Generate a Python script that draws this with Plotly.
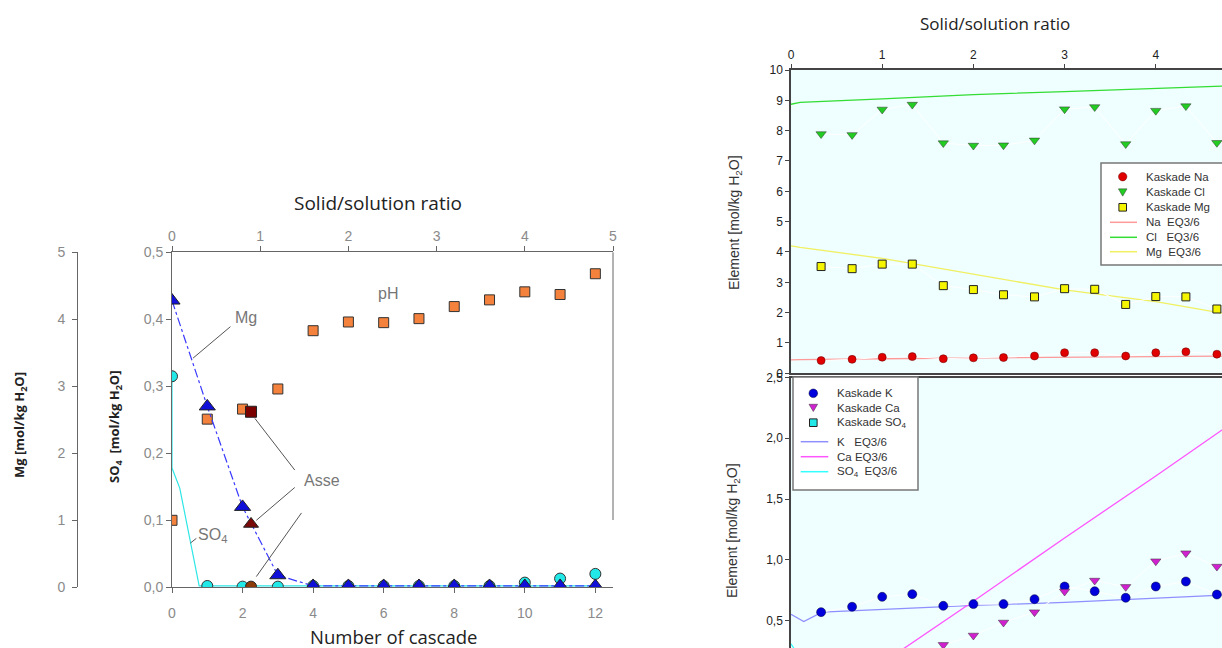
import plotly.graph_objects as go

W, H = 1222, 648
def px(x): return x / W
def py(y): return 1 - y / H

# ---------------- Left chart data ----------------
cascade = [0, 1, 2, 3, 4, 5, 6, 7, 8, 9, 10, 11, 12]
ph_pos = [0.100, 0.251, 0.266, 0.296, 0.383, 0.396, 0.395, 0.401, 0.419, 0.429, 0.441, 0.437, 0.468]
mg_vals = [4.28, 2.70, 1.20, 0.18, 0.02, 0.02, 0.02, 0.02, 0.02, 0.02, 0.02, 0.02, 0.02]
so4_vals = [0.315, 0.002, 0.001, 0.001, 0.002, 0.002, 0.002, 0.002, 0.002, 0.002, 0.007, 0.013, 0.020]
so4_model_x = [0, 0, 0.22, 0.77, 4, 8, 12]
so4_model_y = [0.314, 0.178, 0.148, 0.002, 0.002, 0.002, 0.002]
asse_x = [2.24]
asse_ph = [0.262]
asse_mg = [0.945]
asse_so4 = [0.001]

# ---------------- Right chart data ----------------
ratio = [0.33, 0.67, 1.0, 1.33, 1.67, 2.0, 2.33, 2.67, 3.0, 3.33, 3.67, 4.0, 4.33, 4.67]
na_k = [0.42, 0.46, 0.53, 0.55, 0.48, 0.51, 0.52, 0.57, 0.68, 0.68, 0.57, 0.68, 0.71, 0.63]
cl_k = [7.89, 7.86, 8.70, 8.86, 7.59, 7.51, 7.52, 7.68, 8.71, 8.78, 7.56, 8.66, 8.81, 7.60]
mg_k = [3.52, 3.45, 3.60, 3.60, 2.89, 2.76, 2.59, 2.52, 2.79, 2.77, 2.27, 2.53, 2.52, 2.12]
k_k = [0.570, 0.614, 0.696, 0.718, 0.622, 0.636, 0.636, 0.677, 0.781, 0.742, 0.688, 0.781, 0.822, 0.715]
ca_ratio = [1.67, 2.0, 2.33, 2.67, 3.0, 3.33, 3.67, 4.0, 4.33, 4.67]
ca_k = [0.301, 0.378, 0.485, 0.570, 0.740, 0.830, 0.778, 0.989, 1.055, 0.945]

eq_x = [0, 0.1, 1, 2, 3, 4, 4.75]
na_eq = [0.44, 0.45, 0.48, 0.51, 0.53, 0.55, 0.57]
cl_eq = [8.87, 8.93, 9.05, 9.19, 9.29, 9.38, 9.47]
mg_eq = [4.20, 4.15, 3.79, 3.27, 2.75, 2.36, 1.97]
k_eq_x = [0, 0.14, 0.34, 1.2, 2.0, 3.0, 3.39, 4.75]
k_eq = [0.553, 0.492, 0.570, 0.600, 0.625, 0.650, 0.664, 0.711]
ca_eq_x = [0, 1, 2, 3, 4, 4.75]
ca_eq = [-0.37, 0.15, 0.66, 1.18, 1.69, 2.08]
so4_eq_x = [0, 0.05, 0.3]
so4_eq = [0.31, 0.25, 0.05]

legend_top = ["Kaskade Na", "Kaskade Cl", "Kaskade Mg", "Na  EQ3/6", "Cl   EQ3/6", "Mg  EQ3/6"]
legend_bottom = ["Kaskade K", "Kaskade Ca", "Kaskade SO<sub>4</sub>", "K   EQ3/6", "Ca EQ3/6", "SO<sub>4</sub>  EQ3/6"]

C_NA, C_CL, C_MG = "#e00000", "#22cc22", "#f5f500"
C_NA_L, C_CL_L, C_MG_L = "#ff9a9a", "#33dd33", "#f0f060"
C_K, C_CA, C_SO4 = "#0000dd", "#d020d0", "#22e8e8"
C_K_L, C_CA_L, C_SO4_L = "#8f8fff", "#ff55ff", "#33ffff"

GRAY = "#8a8a8a"
fig = go.Figure()

# Left chart traces
fig.add_trace(go.Scatter(x=[None], y=[None], mode="markers", showlegend=False, xaxis="x2", yaxis="y",
                         hoverinfo="skip"))
fig.add_trace(go.Scatter(x=so4_model_x, y=so4_model_y, mode="lines",
                         line=dict(color="#2ee6e6", width=1.2), showlegend=False, xaxis="x", yaxis="y"))
fig.add_trace(go.Scatter(x=cascade, y=mg_vals, mode="lines",
                         line=dict(color="#3a3aff", width=1.2, dash="dashdot"), showlegend=False, xaxis="x", yaxis="y2"))
fig.add_trace(go.Scatter(x=cascade, y=ph_pos, mode="markers",
                         marker=dict(symbol="square", size=10, color="#f4823c", line=dict(color="#333", width=1)),
                         showlegend=False, xaxis="x", yaxis="y"))
fig.add_trace(go.Scatter(x=cascade, y=so4_vals, mode="markers",
                         marker=dict(symbol="circle", size=11, color="#22e8e8", line=dict(color="#333", width=1)),
                         showlegend=False, xaxis="x", yaxis="y"))
fig.add_trace(go.Scatter(x=cascade, y=mg_vals, mode="markers",
                         marker=dict(symbol="triangle-up", size=14, color="#1010d8", line=dict(color="#222", width=1)),
                         showlegend=False, xaxis="x", yaxis="y2"))
fig.add_trace(go.Scatter(x=asse_x, y=asse_ph, mode="markers",
                         marker=dict(symbol="square", size=11, color="#7a0000", line=dict(color="#222", width=1)),
                         showlegend=False, xaxis="x", yaxis="y"))
fig.add_trace(go.Scatter(x=asse_x, y=asse_mg, mode="markers",
                         marker=dict(symbol="triangle-up", size=13, color="#7a0a0a", line=dict(color="#222", width=1)),
                         showlegend=False, xaxis="x", yaxis="y2"))
fig.add_trace(go.Scatter(x=asse_x, y=asse_so4, mode="markers",
                         marker=dict(symbol="circle", size=11, color="#8b3a0a", line=dict(color="#222", width=1)),
                         showlegend=False, xaxis="x", yaxis="y"))

# Right upper traces
fig.add_trace(go.Scatter(x=eq_x, y=na_eq, mode="lines", line=dict(color=C_NA_L, width=1.3),
                         xaxis="x3", yaxis="y3", showlegend=False))
fig.add_trace(go.Scatter(x=eq_x, y=cl_eq, mode="lines", line=dict(color=C_CL_L, width=1.3),
                         xaxis="x3", yaxis="y3", showlegend=False))
fig.add_trace(go.Scatter(x=eq_x, y=mg_eq, mode="lines", line=dict(color=C_MG_L, width=1.3),
                         xaxis="x3", yaxis="y3", showlegend=False))
fig.add_trace(go.Scatter(x=ratio, y=na_k, mode="lines+markers", line=dict(color="white", width=1),
                         marker=dict(symbol="circle", size=8, color=C_NA, line=dict(color="#600", width=0.5)),
                         xaxis="x3", yaxis="y3", showlegend=False))
fig.add_trace(go.Scatter(x=ratio, y=cl_k, mode="lines+markers", line=dict(color="white", width=1),
                         marker=dict(symbol="triangle-down", size=9, color=C_CL, line=dict(color="#333", width=0.5)),
                         xaxis="x3", yaxis="y3", showlegend=False))
fig.add_trace(go.Scatter(x=ratio, y=mg_k, mode="lines+markers", line=dict(color="white", width=1),
                         marker=dict(symbol="square", size=8, color=C_MG, line=dict(color="#222", width=1)),
                         xaxis="x3", yaxis="y3", showlegend=False))

# Right lower traces
fig.add_trace(go.Scatter(x=k_eq_x, y=k_eq, mode="lines", line=dict(color=C_K_L, width=1.3),
                         xaxis="x4", yaxis="y4", showlegend=False))
fig.add_trace(go.Scatter(x=ca_eq_x, y=ca_eq, mode="lines", line=dict(color=C_CA_L, width=1.3),
                         xaxis="x4", yaxis="y4", showlegend=False))
fig.add_trace(go.Scatter(x=so4_eq_x, y=so4_eq, mode="lines", line=dict(color=C_SO4_L, width=1.3),
                         xaxis="x4", yaxis="y4", showlegend=False))
fig.add_trace(go.Scatter(x=ratio, y=k_k, mode="lines+markers", line=dict(color="white", width=1),
                         marker=dict(symbol="circle", size=9, color=C_K, line=dict(color="#003", width=0.5)),
                         xaxis="x4", yaxis="y4", showlegend=False))
fig.add_trace(go.Scatter(x=ca_ratio, y=ca_k, mode="lines+markers", line=dict(color="white", width=1),
                         marker=dict(symbol="triangle-down", size=9, color=C_CA, line=dict(color="#333", width=0.5)),
                         xaxis="x4", yaxis="y4", showlegend=False))

left_tick_font = dict(family="Liberation Sans, Arial", size=14, color=GRAY)
right_tick_font = dict(family="Liberation Sans, Arial", size=12, color="#222")
lx = [px(172), px(613)]
ly = [py(587.3), py(252.3)]
rx = [px(791), 1.0]

common_left = dict(showgrid=False, zeroline=False, showline=True, linecolor="#666", linewidth=1,
                   ticks="outside", ticklen=5, tickcolor="#666", tickfont=left_tick_font, automargin=False)
common_right = dict(showgrid=False, zeroline=False, showline=True, linecolor="#444", linewidth=1.5,
                    ticks="outside", ticklen=4, tickcolor="#444", tickfont=right_tick_font, automargin=False)

fig.update_layout(
    width=W, height=H, margin=dict(l=0, r=0, t=0, b=0, autoexpand=False),
    template="none", paper_bgcolor="white", plot_bgcolor="rgba(0,0,0,0)",
    separators=", ", showlegend=False,
    xaxis=dict(domain=lx, range=[0, 12.5], anchor="y", tickvals=[0, 2, 4, 6, 8, 10, 12],
               ticklabelstandoff=8, **common_left),
    xaxis2=dict(domain=lx, range=[0, 5], anchor="y", overlaying="x", side="top",
                tickvals=[0, 1, 2, 3, 4, 5], **common_left),
    yaxis=dict(domain=ly, range=[0, 0.5], anchor="x", tickvals=[0, 0.1, 0.2, 0.3, 0.4, 0.5],
               tickformat=".1f", **common_left),
    yaxis2=dict(domain=ly, range=[0, 5], anchor="free", position=px(77), overlaying="y", side="left",
                tickvals=[0, 1, 2, 3, 4, 5], ticklabelstandoff=4, **common_left),
    xaxis3=dict(domain=rx, range=[0, 4.726], anchor="y3", side="top", tickvals=[0, 1, 2, 3, 4],
                mirror=True, **common_right),
    yaxis3=dict(domain=[py(373.3), py(70)], range=[0, 10], anchor="x3", tickvals=list(range(0, 11)),
                **common_right),
    xaxis4=dict(domain=rx, range=[0, 4.726], anchor="y4", side="top", showticklabels=False,
                showgrid=False, zeroline=False, showline=True, linecolor="#444", linewidth=2, ticks="",
                automargin=False),
    yaxis4=dict(domain=[0, py(377.5)], range=[0.275, 2.5], anchor="x4", tickvals=[0.5, 1.0, 1.5, 2.0, 2.5],
                tickformat=".1f", **common_right),
)

shapes = [
    dict(type="rect", xref="paper", yref="paper", x0=px(791), x1=1.0, y0=py(373.3), y1=py(70),
         fillcolor="#effefe", line=dict(width=0), layer="below"),
    dict(type="rect", xref="paper", yref="paper", x0=px(791), x1=1.0, y0=0, y1=py(377.5),
         fillcolor="#effefe", line=dict(width=0), layer="below"),
    dict(type="line", xref="paper", yref="paper", x0=px(613), x1=px(613), y0=py(252.3), y1=py(520),
         line=dict(color="#666", width=1)),
]
# leader lines (left chart annotations)
leaders = [((1.656, 0.389), (0.596, 0.342)),
           ((3.48, 0.175), (2.35, 0.252)),
           ((3.48, 0.149), (2.39, 0.100)),
           ((3.67, 0.111), (2.39, 0.016)),
           ((0.69, 0.073), (0.52, 0.066))]
for (a, b) in leaders:
    shapes.append(dict(type="line", xref="x", yref="y", x0=a[0], y0=a[1], x1=b[0], y1=b[1],
                       line=dict(color="#555", width=1)))

# ---- manual legends (drawn as shapes + annotations) ----
def box(x0, y0, x1, y1):
    shapes.append(dict(type="rect", xref="paper", yref="paper", x0=px(x0), x1=px(x1), y0=py(y1), y1=py(y0),
                       fillcolor="white", line=dict(color="#777", width=1.5), layer="above"))
def circ(cx, cy, r, color, lc):
    shapes.append(dict(type="circle", xref="paper", yref="paper", x0=px(cx - r), x1=px(cx + r),
                       y0=py(cy + r), y1=py(cy - r), fillcolor=color, line=dict(color=lc, width=0.5), layer="above"))
def tri_down(cx, cy, s, color):
    path = f"M {px(cx - s)},{py(cy - s * 0.8)} L {px(cx + s)},{py(cy - s * 0.8)} L {px(cx)},{py(cy + s * 0.9)} Z"
    shapes.append(dict(type="path", xref="paper", yref="paper", path=path, fillcolor=color,
                       line=dict(color="#333", width=0.5), layer="above"))
def sq(cx, cy, h, color):
    shapes.append(dict(type="rect", xref="paper", yref="paper", x0=px(cx - h), x1=px(cx + h),
                       y0=py(cy + h), y1=py(cy - h), fillcolor=color, line=dict(color="#222", width=1), layer="above"))
def seg(x0, x1, y, color):
    shapes.append(dict(type="line", xref="paper", yref="paper", x0=px(x0), x1=px(x1), y0=py(y), y1=py(y),
                       line=dict(color=color, width=1.5), layer="above"))

ann = []
leg_font = dict(family="Liberation Sans, Arial", size=11.5, color="#333")

# upper legend
box(1101, 163, 1240, 265)
ys = [176.7, 192.3, 207.3, 222.3, 237.3, 251.7]
circ(1122.7, ys[0], 4.2, C_NA, "#600")
tri_down(1122.7, ys[1], 4.3, C_CL)
sq(1122.7, ys[2], 3.8, C_MG)
seg(1110, 1137, ys[3], C_NA_L)
seg(1110, 1137, ys[4], C_CL_L)
seg(1110, 1137, ys[5], C_MG_L)
for t, y in zip(legend_top, ys):
    ann.append(dict(x=px(1144), y=py(y), xref="paper", yref="paper", xanchor="left", yanchor="middle",
                    text=t, showarrow=False, font=leg_font))

# lower legend
box(793, 377, 918, 490)
ys2 = [393.3, 407.7, 422.7, 441.7, 456.7, 471.7]
circ(813.3, ys2[0], 4.3, C_K, "#003")
tri_down(813.3, ys2[1], 4.3, C_CA)
sq(813.3, ys2[2], 3.8, C_SO4)
seg(800.7, 828.3, ys2[3], C_K_L)
seg(800.7, 828.3, ys2[4], C_CA_L)
seg(800.7, 828.3, ys2[5], C_SO4_L)
for t, y in zip(legend_bottom, ys2):
    ann.append(dict(x=px(835), y=py(y), xref="paper", yref="paper", xanchor="left", yanchor="middle",
                    text=t, showarrow=False, font=leg_font))

fig.update_layout(shapes=shapes)

lab_font = dict(family="Liberation Sans, Arial", size=16, color="#777")
C = dict(xanchor="center", yanchor="middle", showarrow=False)
ann += [
    dict(x=2.11, y=0.403, xref="x", yref="y", text="Mg", font=lab_font, **C),
    dict(x=6.13, y=0.438, xref="x", yref="y", text="pH", font=lab_font, **C),
    dict(x=4.24, y=0.159, xref="x", yref="y", text="Asse", font=lab_font, **C),
    dict(x=1.16, y=0.077, xref="x", yref="y", text="SO<sub>4</sub>", font=lab_font, **C),
    dict(x=px(378), y=py(203), xref="paper", yref="paper", text="Solid/solution ratio",
         font=dict(family="Open Sans", size=19, color="#222"), **C),
    dict(x=px(393), y=py(636), xref="paper", yref="paper", text="Number of cascade",
         font=dict(family="Open Sans", size=18.5, color="#222"), **C),
    dict(x=px(995), y=py(23), xref="paper", yref="paper", text="Solid/solution ratio",
         font=dict(family="Open Sans", size=17, color="#222"), **C),
    dict(x=px(20), y=py(425), xref="paper", yref="paper", text="<b>Mg [mol/kg H<sub>2</sub>O]</b>",
         textangle=-90, font=dict(family="Open Sans", size=13, color="#222"), **C),
    dict(x=px(115), y=py(427), xref="paper", yref="paper", text="<b>SO<sub>4</sub>  [mol/kg H<sub>2</sub>O]</b>",
         textangle=-90, font=dict(family="Open Sans", size=13, color="#222"), **C),
    dict(x=px(735), y=py(223), xref="paper", yref="paper", text="Element [mol/kg H<sub>2</sub>O]",
         textangle=-90, font=dict(family="Liberation Sans, Arial", size=14, color="#333"), **C),
    dict(x=px(733), y=py(530), xref="paper", yref="paper", text="Element [mol/kg H<sub>2</sub>O]",
         textangle=-90, font=dict(family="Liberation Sans, Arial", size=14, color="#333"), **C),
]
fig.update_layout(annotations=ann)

fig.write_html("out.html", config={"displayModeBar": False},
               post_script="document.body.style.margin='0';document.body.style.overflow='hidden';")
